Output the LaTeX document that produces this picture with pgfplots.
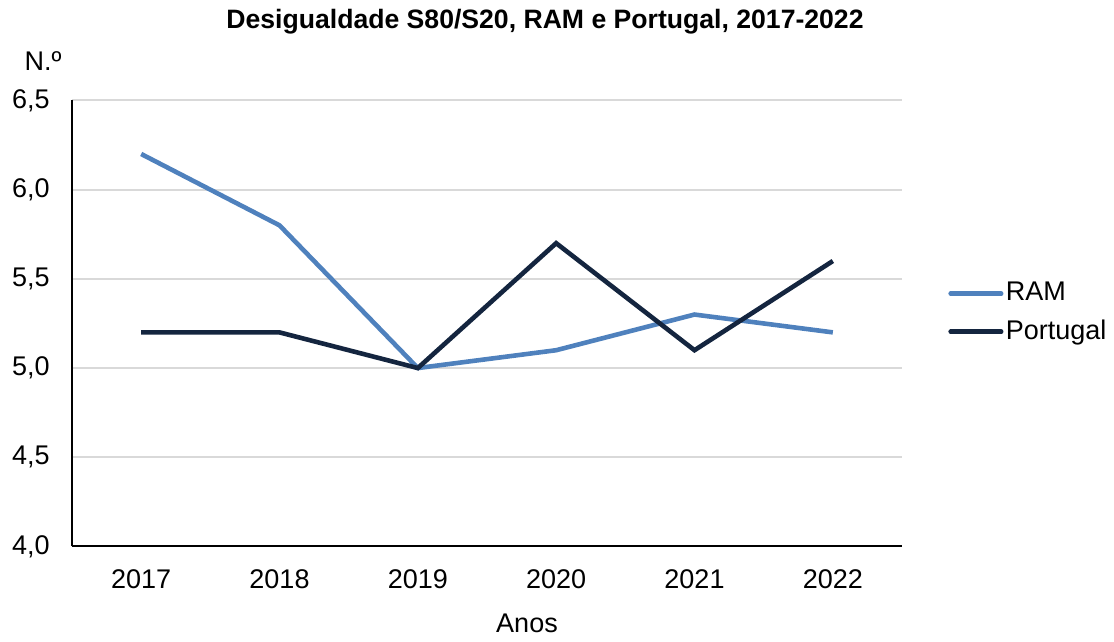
\documentclass[border=0pt]{standalone}
\usepackage{fontspec}
\setmainfont{Liberation Sans}
\usepackage{pgfplots}
\pgfplotsset{compat=1.18}
\definecolor{ramblue}{HTML}{4F81BD}
\definecolor{ptnavy}{HTML}{14253F}
\definecolor{gridgray}{HTML}{D9D9D9}

\begin{document}
\fontsize{13.5bp}{16bp}\selectfont
\begin{tikzpicture}
\path (-36bp,-45.5bp) rectangle (521bp,272.5bp);
\begin{axis}[
    at={(0,0)}, anchor=south west,
    scale only axis, width=415bp, height=223bp,
    xmin=2016.5, xmax=2022.5, ymin=4, ymax=6.5,
    xtick={2017,2018,2019,2020,2021,2022},
    xticklabels={2017,2018,2019,2020,2021,2022},
    ytick={4,4.5,5,5.5,6,6.5},
    tick label style={font=\fontsize{13.5bp}{16bp}\selectfont},
    xticklabel style={anchor=center, yshift=-16.5bp},
    yticklabel style={anchor=east, xshift=-6.5bp,
        /pgf/number format/.cd, use comma, fixed, fixed zerofill, precision=1, assume math mode=true},
    ymajorgrids, grid style={gridgray, line width=1bp},
    axis x line*=bottom, axis y line*=left,
    axis line style={black, line width=1bp, -},
    major tick length=0pt,
    clip=false,
    legend style={at={(1.0554,0.5235)}, anchor=west, draw=none, fill=none,
        inner sep=0pt, row sep=3.5bp, font=\fontsize{13.5bp}{16bp}\selectfont,
        nodes={inner xsep=1.2bp},
        /tikz/every even column/.append style={column sep=0pt}},
    legend cell align=left,
    legend image code/.code={\draw[#1, line cap=round] (0bp,0bp) -- (25.25bp,0bp);},
]
\addplot[ramblue, line width=2.3bp] coordinates {
    (2017,6.2) (2018,5.8) (2019,5.0) (2020,5.1) (2021,5.3) (2022,5.2)};
\addplot[ptnavy, line width=2.3bp] coordinates {
    (2017,5.2) (2018,5.2) (2019,5.0) (2020,5.7) (2021,5.1) (2022,5.6)};
\legend{RAM, Portugal}
\end{axis}
\node[font=\bfseries\fontsize{13.3bp}{16bp}\selectfont] at (236.5bp,262.5bp) {Desigualdade S80/S20, RAM e Portugal, 2017-2022};
\node at (-14.5bp,242.5bp) {N.º};
\node at (227.5bp,-38.5bp) {Anos};
\end{tikzpicture}
\end{document}
